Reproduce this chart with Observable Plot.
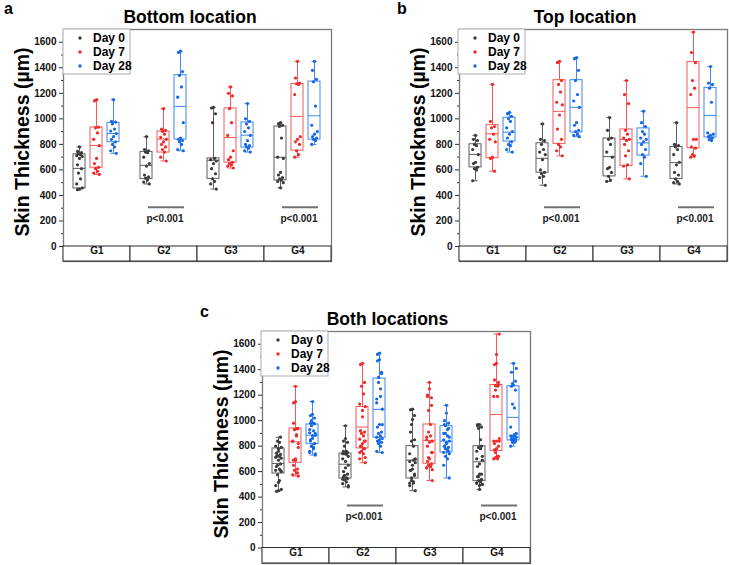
<!DOCTYPE html>
<html><head><meta charset="utf-8">
<script src="https://cdn.jsdelivr.net/npm/d3@7"></script>
<script src="https://cdn.jsdelivr.net/npm/@observablehq/plot@0.6"></script>
<style>
body{margin:0;background:#fff;}
#root{position:relative;width:729px;height:565px;overflow:hidden;background:#fff;font-family:"Liberation Sans",Arial,sans-serif;}
.panel{position:absolute;}
.panel svg{overflow:visible;}
#overlay{position:absolute;left:0;top:0;pointer-events:none;}
</style></head>
<body><div id="root"></div>
<script>
const groups = ["G1","G2","G3","G4"];
const days = ["Day 0","Day 7","Day 28"];

// Bottom location: points per (group, day) in order G1 d0,d7,d28, G2 ..., G4 ...
const bottomPoints = [
  [780,745,735,725,720,712,705,690,640,610,575,530,490,460,450,445],
  [1150,1140,935,930,890,840,790,690,650,620,610,590,575,565],
  [1150,980,975,960,920,905,885,860,840,820,800,780,750,730],
  [860,760,750,740,735,700,650,630,560,545,535,520,505,490],
  [1080,920,910,900,880,855,840,820,800,780,760,740,700,670],
  [1530,1520,1370,1340,1250,1170,970,850,840,830,820,800,760,750],
  [1090,1085,1040,970,690,680,670,650,610,570,530,510,490,450],
  [1250,1200,1180,1080,970,870,750,700,680,660,650,640,630,615],
  [1120,1000,980,960,930,900,870,830,800,790,780,770,750,740],
  [970,960,950,940,850,700,690,580,560,540,530,520,510,500,460],
  [1450,1320,1280,1275,1270,1190,860,840,820,800,750,720,700],
  [1450,1380,1310,1290,1100,950,900,880,860,850,840,830,800]
];
const bottomQ1  = [455,617,817,528,736,838,530,657,775,518,751,838];
const bottomMed = [612,791,885,636,841,1098,675,854,872,699,1019,1024];
const bottomQ3  = [722,933,969,741,901,1342,690,1082,972,940,1274,1292];

// Top location
const topPoints = [
  [870,840,830,800,790,760,720,660,650,620,610,600,515],
  [1270,980,940,930,880,840,820,700,690,590],
  [1050,1040,1020,1000,980,930,900,880,850,820,800,790,760,740],
  [960,840,830,800,760,740,720,680,600,580,570,550,540,480],
  [1450,1440,1300,1270,1210,1130,1110,1030,920,840,800,780,750,710],
  [1480,1470,1380,1300,1190,1140,1090,970,950,910,900,880,870,860],
  [1010,910,850,840,800,740,700,620,610,580,550,520,510],
  [1300,1190,1120,910,880,850,840,830,800,750,710,640,630,530],
  [1060,970,940,900,880,850,840,820,800,760,720,700,650,550],
  [970,800,790,780,760,720,660,640,580,560,530,510,500,490],
  [1680,1520,1440,1300,1240,1190,840,840,780,770,720,710,700],
  [1410,1280,1270,1240,1130,890,880,870,860,850,840,830]
];
const topQ1  = [620,691,822,578,804,893,549,630,712,528,770,854];
const topMed = [722,883,896,691,1059,1090,704,838,812,657,1088,1027];
const topQ3  = [801,951,1009,809,1303,1303,846,917,925,780,1445,1243];

// Both locations (pooled bottom + top measurements)
const bothQ1  = [585,669,816,546,782,866,546,661,750,525,763,845];
const bothMed = [664,834,887,658,950,1089,690,845,839,677,1049,1026];
const bothQ3  = [782,939,970,742,1107,1330,800,970,957,800,1280,1270];

const pGroups = ["G2","G4"];
const pText = "p<0.001";
const pLineBottom = 308, pLabelBottom = 217;
const pLineTop = 308, pLabelTop = 217;
const pLineBoth = 334, pLabelBoth = 248;

const yTicks = [0,200,400,600,800,1000,1200,1400,1600];
const yMinorTicks = [100,300,500,700,900,1100,1300,1500];
const yLabel = "Skin Thickness (µm)";
const titles = ["Bottom location","Top location","Both locations"];
const tags = ["a","b","c"];

const pointColor = {"Day 0":"#3b3b3b","Day 7":"#ef2a2a","Day 28":"#1668e5"};
const boxColor = {"Day 0":"#5e5e5e","Day 7":"#f25858","Day 28":"#3f85ec"};

function buildRows(points, q1, med, q3) {
  const pts = [], boxes = [];
  let k = 0;
  groups.forEach(g => days.forEach(d => {
    const vals = points[k];
    vals.forEach((v, i) => pts.push({group: g, day: d, value: v, i}));
    boxes.push({group: g, day: d, q1: q1[k], med: med[k], q3: q3[k], lo: d3.min(vals), hi: d3.max(vals)});
    k++;
  }));
  return {pts, boxes};
}

function makePanel({points, q1, med, q3, frameW, marginRight, marginBottom, rowUnits, pLine, pLabel}) {
  const {pts, boxes} = buildRows(points, q1, med, q3);
  const jit = [0, -2, 2, -1, 1, -2.8, 2.8];
  const sc = d => boxColor[d.day];
  return Plot.plot({
    width: 63 + frameW + marginRight,
    height: 5 + 232 + marginBottom,
    marginLeft: 63, marginRight, marginTop: 5, marginBottom,
    style: {fontFamily: "'Liberation Sans', Arial, sans-serif", fontWeight: "bold", fontSize: "10px", color: "#111", background: "transparent"},
    fx: {domain: groups, padding: 0, axis: null},
    x: {domain: days, paddingInner: 0.285, paddingOuter: 0.53, axis: null},
    y: {domain: [-rowUnits, 1700], axis: null},
    marks: [
      Plot.frame({facet: "super", stroke: "#7a7a7a", strokeWidth: 1.3}),
      Plot.rect([0], {y1: -rowUnits, y2: 0, fill: "white", stroke: "#2a2a2a", strokeWidth: 1}),
      Plot.text(groups, {fx: d => d, text: d => d, frameAnchor: "bottom", dy: -7.5, fill: "#111"}),
      Plot.ruleX(boxes, {fx: "group", x: "day", y1: "lo", y2: "hi", stroke: sc, strokeWidth: 1}),
      Plot.barY(boxes, {fx: "group", x: "day", y1: "q1", y2: "q3", fill: "white", stroke: sc, strokeWidth: 1}),
      Plot.tickY(boxes, {fx: "group", x: "day", y: "med", stroke: sc, strokeWidth: 1}),
      Plot.tickY(boxes, {fx: "group", x: "day", y: "hi", stroke: sc, strokeWidth: 1, insetLeft: 3.5, insetRight: 3.5}),
      Plot.tickY(boxes, {fx: "group", x: "day", y: "lo", stroke: sc, strokeWidth: 1, insetLeft: 3.5, insetRight: 3.5}),
      ...jit.map((dx, k) => Plot.dot(pts.filter(p => p.i % jit.length === k), {
        fx: "group", x: "day", y: "value", r: 1.6, fill: d => pointColor[d.day], stroke: "none", dx
      })),
      Plot.ruleY(pGroups, {fx: d => d, y: () => pLine, insetLeft: 18, insetRight: 13, stroke: "#727272", strokeWidth: 2}),
      Plot.text(pGroups, {fx: d => d, y: () => pLabel, text: () => pText, dx: 1, fill: "#222"}),
      Plot.axisY({ticks: yTicks, tickSize: 4, tickPadding: 3, tickFormat: d => String(d), label: null, stroke: "#333", fill: "#111"}),
      Plot.axisY({ticks: yMinorTicks, tickSize: 2, tickFormat: () => "", label: null, stroke: "#333"}),
      Plot.text([yLabel], {fx: () => "G1", frameAnchor: "left", textAnchor: "middle", rotate: -90, dx: -41, dy: -3.5, fontSize: 19.5, fontWeight: "bold", fill: "#000", text: d => d})
    ]
  });
}

const root = document.getElementById("root");
function place(svg, left, top) {
  const div = document.createElement("div");
  div.className = "panel";
  div.style.left = left + "px";
  div.style.top = top + "px";
  div.appendChild(svg);
  root.appendChild(div);
}

const bothPoints = bottomPoints.map((a, k) => a.concat(topPoints[k]));

place(makePanel({points: bottomPoints, q1: bottomQ1, med: bottomMed, q3: bottomQ3, frameW: 268, marginRight: 5, marginBottom: 5, rowUnits: 117.5, pLine: pLineBottom, pLabel: pLabelBottom}), 0, 24);
place(makePanel({points: topPoints, q1: topQ1, med: topMed, q3: topQ3, frameW: 269, marginRight: 2, marginBottom: 5, rowUnits: 117.5, pLine: pLineTop, pLabel: pLabelTop}), 395, 24);
place(makePanel({points: bothPoints, q1: bothQ1, med: bothMed, q3: bothQ3, frameW: 269, marginRight: 5, marginBottom: 2, rowUnits: 121.5, pLine: pLineBoth, pLabel: pLabelBoth}), 198, 326);

// Overlay: titles, panel tags, legends
const ov = d3.select(root).append("svg").attr("id", "overlay").attr("width", 729).attr("height", 565)
  .style("font-family", "'Liberation Sans', Arial, sans-serif").style("font-weight", "bold");
const titlePos = [[190, 22.7], [585, 22.7], [387.5, 325]];
const tagPos = [[4, 14], [397, 14], [200, 317]];
titles.forEach((t, i) => ov.append("text").attr("x", titlePos[i][0]).attr("y", titlePos[i][1])
  .attr("text-anchor", "middle").attr("font-size", 17.5).attr("fill", "#000").text(t));
tags.forEach((t, i) => ov.append("text").attr("x", tagPos[i][0]).attr("y", tagPos[i][1])
  .attr("font-size", 16).attr("fill", "#000").text(t));
const legendPos = [[63, 29], [458, 29], [261, 331]];
legendPos.forEach(([lx, ly]) => {
  const g = ov.append("g").attr("transform", `translate(${lx},${ly})`);
  g.append("rect").attr("x", 0).attr("y", 0).attr("width", 67).attr("height", 45)
    .attr("fill", "white").attr("stroke", "#ababab").attr("stroke-width", 1);
  days.forEach((d, i) => {
    g.append("circle").attr("cx", 17).attr("cy", 9 + i * 14).attr("r", 1.7).attr("fill", pointColor[d]);
    g.append("text").attr("x", 30).attr("y", 9 + i * 14).attr("dy", "0.36em")
      .attr("font-size", 12).attr("fill", "#000").text(d);
  });
});
</script></body></html>
